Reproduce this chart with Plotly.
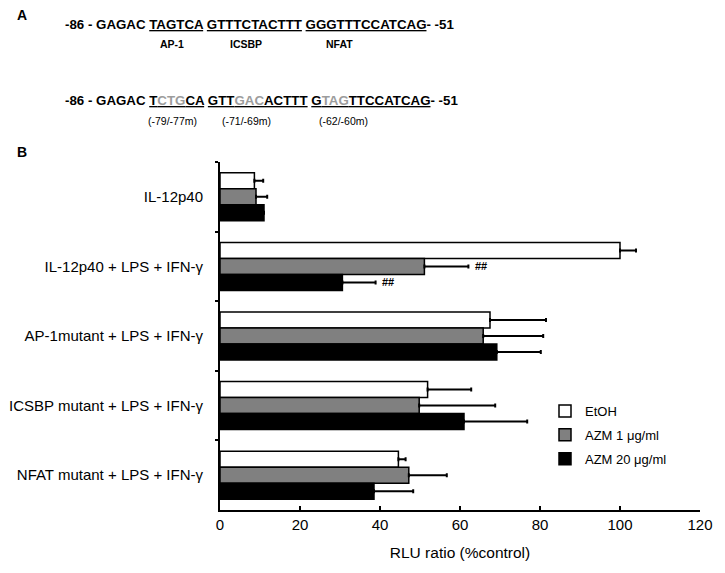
import plotly.graph_objects as go

# ---------------- data ----------------
categories = [
    "IL-12p40",
    "IL-12p40 + LPS + IFN-γ",
    "AP-1mutant + LPS + IFN-γ",
    "ICSBP mutant + LPS + IFN-γ",
    "NFAT mutant + LPS + IFN-γ",
]
series_names = ["EtOH", "AZM 1 μg/ml", "AZM 20 μg/ml"]
etoh = [8.6, 100.0, 67.5, 51.9, 44.6]
etoh_err = [2.2, 4.0, 14.0, 10.9, 1.8]
azm1 = [9.0, 51.1, 65.8, 49.8, 47.2]
azm1_err = [2.8, 11.0, 15.0, 19.0, 9.5]
azm20 = [11.0, 30.6, 69.2, 61.0, 38.5]
azm20_err = [0.0, 8.3, 11.0, 15.8, 9.8]
x_ticks = [0, 20, 40, 60, 80, 100, 120]
x_title = "RLU ratio (%control)"

# panel A text
seq_wt = ("-86 - GAGAC <u>TAGTCA</u> <u>GTTTCTACTTT</u> <u>GGGTTTCCATCAG</u>- -51")
G = "<span style='color:#9c9c9c'>{}</span>"
seq_mut = ("-86 - GAGAC <u>T" + G.format("CTG") + "CA</u> <u>GTT" + G.format("GAC") +
           "ACTTT</u> <u>G" + G.format("TAG") + "TTCCATCAG</u>- -51")
site_labels = ["AP-1", "ICSBP", "NFAT"]
mut_labels = ["(-79/-77m)", "(-71/-69m)", "(-62/-60m)"]

# ---------------- layout geometry ----------------
# page body has an 8px margin, so the figure is drawn 8px smaller and offset
OFF = 8
W, H = 725 - OFF, 573 - OFF
L, R, T, B = 220 - OFF, 25, 162 - OFF, 63
PW, PH = W - L - R, H - T - B
BARGAP = 0.31


def px(x):
    return (x - OFF - L) / PW


def py(y):
    return (H - B - (y - OFF)) / PH


fills = ["#ffffff", "#808080", "#000000"]
vals = [etoh, azm1, azm20]
errs = [etoh_err, azm1_err, azm20_err]

fig = go.Figure()
for i in range(3):
    fig.add_trace(go.Bar(
        name=series_names[i],
        y=categories,
        x=vals[i],
        orientation="h",
        marker=dict(color=fills[i], line=dict(color="#000000", width=1.5)),
        error_x=dict(type="data", symmetric=False, array=errs[i],
                     arrayminus=[0] * len(errs[i]), color="#000000",
                     thickness=2, width=2),
        legendgroup=f"g{i}",
    ))

SEQ_FONT = dict(family="Liberation Sans, Arial", size=13.3, color="#000000")
SMALL_FONT = dict(family="Liberation Sans, Arial", size=10.5, color="#000000")

ann = []
ann.append(dict(x=px(15), y=py(15), text="<b>A</b>", showarrow=False, xanchor="left", yanchor="middle",
                xref="paper", yref="paper", font=dict(family="Liberation Sans, Arial", size=14, color="#000")))
ann.append(dict(x=px(15), y=py(152), text="<b>B</b>", showarrow=False, xanchor="left", yanchor="middle",
                xref="paper", yref="paper", font=dict(family="Liberation Sans, Arial", size=14, color="#000")))
ann.append(dict(x=px(63), y=py(25), text="<b>" + seq_wt + "</b>", showarrow=False, xanchor="left",
                yanchor="middle", xref="paper", yref="paper", font=SEQ_FONT))
ann.append(dict(x=px(63), y=py(100), text="<b>" + seq_mut + "</b>", showarrow=False, xanchor="left",
                yanchor="middle", xref="paper", yref="paper", font=SEQ_FONT))
for lab, cx in zip(site_labels, [172, 246, 339]):
    ann.append(dict(x=px(cx), y=py(44), text="<b>" + lab + "</b>", showarrow=False, xanchor="center",
                    yanchor="middle", xref="paper", yref="paper", font=SMALL_FONT))
for lab, cx in zip(mut_labels, [172, 246, 343]):
    ann.append(dict(x=px(cx), y=py(121), text=lab, showarrow=False, xanchor="center",
                    yanchor="middle", xref="paper", yref="paper", font=SMALL_FONT))

# significance marks (##) next to the error bars of group 2
bw = (1 - BARGAP) / 3
for j, off in [(1, 0.0), (2, bw)]:
    ann.append(dict(x=vals[j][1] + errs[j][1] + 1.2, y=1 + off, xref="x", yref="y",
                    text="<b>##</b>", showarrow=False, xanchor="left", yanchor="middle",
                    font=dict(family="Liberation Sans, Arial", size=11, color="#000")))

fig.update_layout(
    width=W, height=H,
    margin=dict(l=L, r=R, t=T, b=B, pad=0, autoexpand=False),
    paper_bgcolor="white", plot_bgcolor="white",
    barmode="group", bargap=BARGAP, bargroupgap=0,
    font=dict(family="Liberation Sans, Arial", size=15, color="#000"),
    annotations=ann,
    legend=dict(x=px(545), y=py(396), xanchor="left", yanchor="top",
                font=dict(size=13, color="#000"), traceorder="grouped",
                tracegroupgap=4, bgcolor="rgba(0,0,0,0)"),
    xaxis=dict(range=[0, 120], tickvals=x_ticks, ticks="inside", ticklen=4, tickwidth=2,
               tickcolor="#000", showline=True, linewidth=2, linecolor="#000",
               showgrid=False, zeroline=False, tickfont=dict(size=15), automargin=False,
               title=dict(text=x_title, font=dict(size=15.5), standoff=15)),
    yaxis=dict(type="category", categoryorder="array", categoryarray=categories,
               range=[4.5, -0.5], ticks="outside", tickson="boundaries", ticklen=3,
               tickwidth=2, tickcolor="#000", showline=True, linewidth=2, linecolor="#000",
               showgrid=False, zeroline=False, tickfont=dict(size=15), automargin=False,
               ticklabelstandoff=12),
)

fig.write_html("out.html")
